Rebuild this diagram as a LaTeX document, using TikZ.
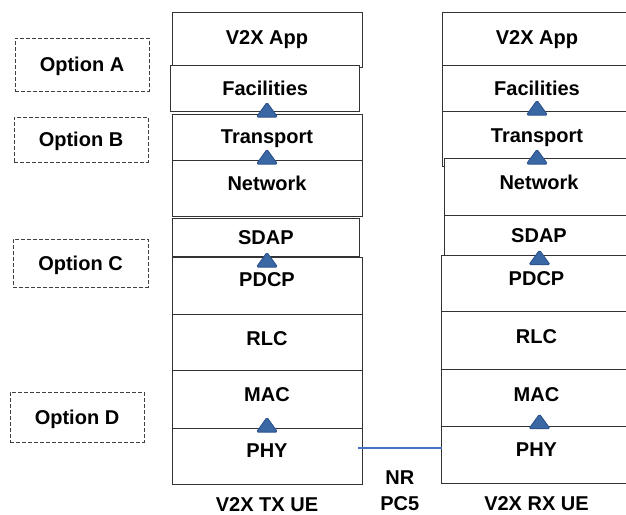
\documentclass[tikz,border=0pt]{standalone}
\usepackage{fontspec}
\setmainfont{Liberation Sans}
\usepackage{xcolor}
\usepackage{tikz}
\usetikzlibrary{positioning,calc}

\definecolor{triblue}{RGB}{58,104,164}
\definecolor{triedge}{RGB}{46,84,142}
\definecolor{linkblue}{RGB}{68,114,196}

\begin{document}
\begin{tikzpicture}[x=1pt,y=-1pt,font=\fontsize{20}{24}\selectfont\bfseries]
\tikzset{
  stackbox/.style={draw=black!80,line width=0.9pt,fill=white,anchor=north west,inner sep=0pt,
    outer sep=0pt,minimum width=190pt,text height=14pt,text depth=#1},
  stackbox/.default=10pt,
  optbox/.style={draw=black!75,line width=0.8pt,dash pattern=on 4pt off 2pt,inner sep=0pt,
    text height=14pt,text depth=0pt},
  uptri/.pic={\filldraw[fill=triblue,draw=triedge,line width=1pt,rounded corners=1.5pt]
    (-10.5,7) -- (0,-7.5) -- (10.5,7) -- cycle;}
}
\useasboundingbox (0,0) rectangle (626,514);

% option boxes
\node[optbox,minimum width=134pt,minimum height=53pt] (optA) at (82,64.5) {Option A};
\node[optbox,minimum width=134pt,minimum height=45pt] (optB) at (81,139.5) {Option B};
\node[optbox,minimum width=135pt,minimum height=48pt] (optC) at (80.5,263) {Option C};
\node[optbox,minimum width=134pt,minimum height=50pt] (optD) at (77,417) {Option D};

% TX stack
\node[stackbox=5pt,minimum height=55pt] (txapp) at (172,12.7) {V2X App};
\node[stackbox=0pt,minimum width=189pt,minimum height=46pt] (txfac) at (170.7,65) {Facilities};
\node[stackbox=2pt,minimum height=46pt] (txtra) at (172,114) {Transport};
\node[stackbox,minimum height=56pt] (txnet) at (172,160) {Network};
\node[stackbox=0pt,minimum width=187.7pt,minimum height=38pt] (txsdap) at (172,218) {SDAP};
\node[stackbox=13pt,minimum height=57pt] (txpdcp) at (172,257) {PDCP};
\node[stackbox=8pt,minimum height=56pt] (txrlc) at (172,314) {RLC};
\node[stackbox,minimum height=58pt] (txmac) at (172,370) {MAC};
\node[stackbox=12pt,minimum height=56pt] (txphy) at (172,428) {PHY};
\node[inner sep=0pt,text height=14pt,text depth=0pt,below=13pt of txphy] (txname) {V2X TX UE};

% RX stack
\node[stackbox=2pt,minimum height=52.3pt] (rxapp) at (442,12.7) {V2X App};
\node[stackbox=0pt,minimum height=46pt] (rxfac) at (442,65) {Facilities};
\node[stackbox=7pt,minimum height=55pt] (rxtra) at (442,111) {Transport};
\node[stackbox=9pt,minimum height=57pt] (rxnet) at (444,158) {Network};
\node[stackbox=0pt,minimum height=40pt] (rxsdap) at (444,215) {SDAP};
\node[stackbox,minimum height=56pt] (rxpdcp) at (441.5,255) {PDCP};
\node[stackbox=8pt,minimum height=58pt] (rxrlc) at (441.5,311) {RLC};
\node[stackbox=7pt,minimum height=57pt] (rxmac) at (441.5,369) {MAC};
\node[stackbox=11pt,minimum height=57pt] (rxphy) at (441.5,426) {PHY};
\node[inner sep=0pt,text height=14pt,text depth=0pt,below=13pt of rxphy] (rxname) {V2X RX UE};

% triangles between layers
\pic at ([yshift=4pt]txtra.north) {uptri};
\pic at ([yshift=3pt]txnet.north) {uptri};
\pic at ([yshift=-3pt]txpdcp.north) {uptri};
\pic at ([yshift=3pt]txphy.north) {uptri};
\pic at ([yshift=3pt]rxtra.north) {uptri};
\pic at ([xshift=-2pt,yshift=1pt]rxnet.north) {uptri};
\pic at ([xshift=3pt,yshift=-2.7pt]rxpdcp.north) {uptri};
\pic at ([xshift=3pt,yshift=4.3pt]rxphy.north) {uptri};

% PC5 link
\coordinate (pcstart) at ([xshift=-4pt,yshift=8pt]txphy.east);
\draw[linkblue,line width=1.4pt] (pcstart) -- (pcstart -| rxphy.west)
  node[midway,below=22pt,inner sep=0pt,align=center,text=black,font=\fontsize{20}{26}\selectfont\bfseries] (pcname) {NR\\PC5};
\end{tikzpicture}
\end{document}
